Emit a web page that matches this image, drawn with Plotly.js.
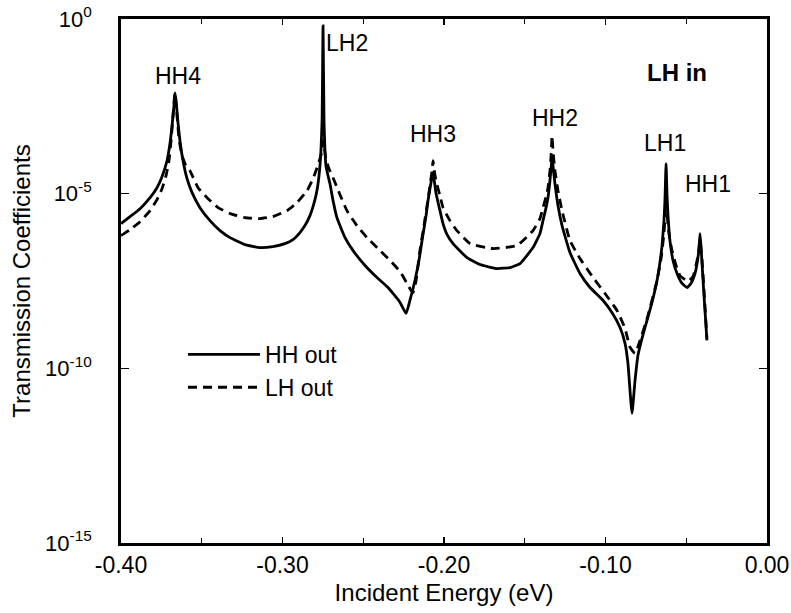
<!DOCTYPE html>
<html>
<head>
<meta charset="utf-8">
<script src="https://cdn.plot.ly/plotly-3.0.1.min.js"></script>
<style>html,body{margin:0;padding:0;background:#fff;}#chart{width:791px;height:613px;}</style>
</head>
<body>
<div id="chart"></div>
<script>
// Incident energy (eV) and transmission coefficients
const hhOutE = [-0.4000,-0.3944,-0.3882,-0.3820,-0.3777,-0.3746,-0.3715,-0.3697,-0.3684,-0.3672,-0.3666,-0.3659,-0.3647,-0.3635,-0.3616,-0.3591,-0.3560,-0.3511,-0.3449,-0.3387,-0.3325,-0.3232,-0.3139,-0.3059,-0.2985,-0.2935,-0.2892,-0.2861,-0.2830,-0.2811,-0.2793,-0.2780,-0.2768,-0.2762,-0.2755,-0.2749,-0.2743,-0.2737,-0.2731,-0.2718,-0.2706,-0.2687,-0.2663,-0.2613,-0.2563,-0.2489,-0.2415,-0.2353,-0.2316,-0.2272,-0.2235,-0.2211,-0.2180,-0.2155,-0.2136,-0.2111,-0.2099,-0.2087,-0.2074,-0.2068,-0.2062,-0.2050,-0.2025,-0.2006,-0.1981,-0.1944,-0.1858,-0.1777,-0.1672,-0.1591,-0.1529,-0.1449,-0.1406,-0.1387,-0.1368,-0.1356,-0.1344,-0.1337,-0.1331,-0.1325,-0.1313,-0.1294,-0.1269,-0.1220,-0.1158,-0.1096,-0.1015,-0.0960,-0.0910,-0.0879,-0.0861,-0.0836,-0.0817,-0.0799,-0.0774,-0.0743,-0.0712,-0.0681,-0.0663,-0.0650,-0.0638,-0.0632,-0.0625,-0.0619,-0.0613,-0.0601,-0.0582,-0.0557,-0.0526,-0.0495,-0.0471,-0.0446,-0.0433,-0.0421,-0.0415,-0.0409,-0.0396,-0.0384,-0.0372];
const hhOutT = [1.39e-6,2.20e-6,3.72e-6,7.69e-6,1.48e-5,3.06e-5,8.77e-5,2.69e-4,8.77e-4,3.27e-3,7.69e-3,4.54e-3,1.07e-3,3.27e-4,8.77e-5,2.69e-5,1.07e-5,3.98e-6,1.69e-6,8.77e-7,5.53e-7,3.49e-7,2.86e-7,3.06e-7,3.72e-7,4.85e-7,7.69e-7,1.22e-6,2.35e-6,4.26e-6,8.77e-6,1.93e-5,6.31e-5,1.69e-4,1.22e-3,6.31e-1,1.22e-3,1.69e-4,6.31e-5,3.27e-5,1.93e-5,6.31e-6,2.06e-6,5.53e-7,2.35e-7,8.77e-8,3.98e-8,2.20e-8,1.39e-8,7.69e-9,3.72e-9,8.77e-9,3.27e-8,1.22e-7,4.54e-7,2.35e-6,6.31e-6,1.39e-5,3.06e-5,3.98e-5,2.69e-5,1.07e-5,3.27e-6,1.39e-6,6.74e-7,3.72e-7,1.48e-7,9.35e-8,7.19e-8,7.69e-8,1.00e-7,2.86e-7,7.19e-7,1.69e-6,3.98e-6,7.69e-6,2.35e-5,5.18e-5,1.07e-4,6.31e-5,1.93e-5,4.54e-6,1.22e-6,2.06e-7,5.18e-8,2.06e-8,8.77e-9,3.98e-9,1.48e-9,5.18e-10,1.39e-10,5.18e-12,4.54e-11,2.35e-10,7.19e-10,2.35e-9,7.69e-9,3.27e-8,1.07e-7,3.27e-7,1.69e-6,6.31e-6,7.19e-5,8.77e-6,2.35e-6,4.54e-7,1.22e-7,5.18e-8,2.69e-8,2.06e-8,2.69e-8,5.18e-8,1.00e-7,2.69e-7,7.19e-7,3.27e-7,3.27e-8,4.54e-9,6.31e-10];

const lhOutE = [-0.4000,-0.3944,-0.3882,-0.3820,-0.3777,-0.3746,-0.3721,-0.3703,-0.3690,-0.3678,-0.3666,-0.3653,-0.3641,-0.3622,-0.3598,-0.3573,-0.3523,-0.3467,-0.3399,-0.3325,-0.3232,-0.3139,-0.3059,-0.2972,-0.2910,-0.2848,-0.2811,-0.2786,-0.2768,-0.2755,-0.2749,-0.2743,-0.2731,-0.2712,-0.2687,-0.2644,-0.2601,-0.2539,-0.2477,-0.2396,-0.2334,-0.2272,-0.2229,-0.2204,-0.2192,-0.2173,-0.2149,-0.2124,-0.2105,-0.2087,-0.2074,-0.2068,-0.2062,-0.2050,-0.2025,-0.2006,-0.1963,-0.1920,-0.1839,-0.1697,-0.1548,-0.1449,-0.1406,-0.1387,-0.1368,-0.1356,-0.1344,-0.1337,-0.1331,-0.1325,-0.1313,-0.1294,-0.1269,-0.1220,-0.1158,-0.1077,-0.1003,-0.0929,-0.0879,-0.0848,-0.0817,-0.0786,-0.0737,-0.0681,-0.0656,-0.0638,-0.0632,-0.0625,-0.0619,-0.0613,-0.0601,-0.0588,-0.0563,-0.0539,-0.0489,-0.0458,-0.0440,-0.0427,-0.0415,-0.0402,-0.0390,-0.0372];
const lhOutT = [6.31e-7,9.35e-7,1.58e-6,3.27e-6,6.74e-6,1.39e-5,3.27e-5,8.77e-5,3.27e-4,1.69e-3,7.69e-3,1.69e-3,3.72e-4,1.22e-4,6.31e-5,4.54e-5,1.48e-5,7.69e-6,3.98e-6,2.69e-6,2.06e-6,1.93e-6,2.20e-6,3.27e-6,5.53e-6,1.22e-5,2.69e-5,5.53e-5,1.00e-4,1.69e-4,3.27e-4,2.35e-4,1.00e-4,5.18e-5,2.86e-5,9.35e-6,3.27e-6,1.22e-6,5.53e-7,2.35e-7,1.22e-7,5.90e-8,2.69e-8,1.69e-8,1.48e-8,3.27e-8,2.35e-7,1.22e-6,4.54e-6,1.69e-5,4.54e-5,8.77e-5,5.18e-5,2.35e-5,8.77e-6,3.98e-6,1.69e-6,8.77e-7,3.72e-7,2.69e-7,3.27e-7,8.77e-7,1.93e-6,3.98e-6,8.20e-6,1.48e-5,4.54e-5,1.22e-4,4.54e-4,1.69e-4,4.54e-5,1.22e-5,3.27e-6,4.54e-7,1.39e-7,3.98e-8,1.39e-8,4.54e-9,1.39e-9,3.98e-10,2.69e-10,6.31e-10,3.27e-9,3.27e-8,1.39e-7,7.19e-7,1.93e-6,6.31e-6,3.27e-6,1.22e-6,4.54e-7,2.35e-7,8.77e-8,4.54e-8,3.06e-8,4.26e-8,8.77e-8,1.69e-7,4.54e-7,1.22e-7,1.69e-8,7.19e-10];

const seriesNames = ["HH out", "LH out"];
const yTickVals = [1, 1e-5, 1e-10, 1e-15];
const yTickText = ["10<sup>0</sup>", "10<sup>-5</sup>", "10<sup>-10</sup>", "10<sup>-15</sup>"];
const xTickVals = [-0.4, -0.3, -0.2, -0.1, 0.0];
const xTickText = ["-0.40", "-0.30", "-0.20", "-0.10", "0.00"];
const peakLabels = ["HH4", "LH2", "HH3", "HH2", "LH1", "HH1"];
const peakLabelE = [-0.3647, -0.2600, -0.2068, -0.1313, -0.0632, -0.0365];
const peakLabelLogT = [-1.63, -0.69, -3.29, -2.83, -3.54, -4.71];
const panelLabel = "<b>LH in</b>";

const FONT = "Liberation Sans, Arial, Helvetica, sans-serif";

const traces = [
  {x: hhOutE, y: hhOutT, name: seriesNames[0], type: "scatter", mode: "lines",
   line: {color: "#000", width: 2.8, shape: "spline", smoothing: 0.4}},
  {x: lhOutE, y: lhOutT, name: seriesNames[1], type: "scatter", mode: "lines",
   line: {color: "#000", width: 2.8, dash: "9px,6px", shape: "spline", smoothing: 0.4}}
];

const annotations = peakLabels.map((t, i) => ({
  x: peakLabelE[i], y: peakLabelLogT[i], xref: "x", yref: "y", text: t,
  showarrow: false, font: {family: FONT, size: 23, color: "#000"}
}));
annotations.push({x: -0.0557, y: -1.54, xref: "x", yref: "y", text: panelLabel,
  showarrow: false, font: {family: FONT, size: 24, color: "#000"}});

const layout = {
  width: 791, height: 613,
  margin: {l: 121, r: 24, t: 19, b: 70},
  paper_bgcolor: "#fff", plot_bgcolor: "#fff",
  font: {family: FONT, color: "#000", size: 22},
  showlegend: true,
  legend: {x: 0.096, y: 0.401, xanchor: "left", yanchor: "top", bgcolor: "rgba(0,0,0,0)",
           font: {family: FONT, size: 23}, itemwidth: 72, tracegroupgap: 0},
  xaxis: {
    range: [-0.4, 0.0], tickvals: xTickVals, ticktext: xTickText,
    ticks: "inside", ticklen: 6, tickwidth: 1.2, tickcolor: "#000",
    minor: {dtick: 0.05, tick0: 0, ticks: "inside", ticklen: 5, tickwidth: 1.2, tickcolor: "#000"},
    showline: true, linewidth: 2.8, linecolor: "#000", mirror: "ticks",
    showgrid: false, zeroline: false,
    tickfont: {family: FONT, size: 23},
    title: {text: "Incident Energy (eV)", font: {family: FONT, size: 24}, standoff: 7}
  },
  yaxis: {
    type: "log", range: [-15, 0], tickvals: yTickVals, ticktext: yTickText,
    ticks: "inside", ticklen: 8, tickwidth: 1.2, tickcolor: "#000",
    ticklabelstandoff: 22,
    showline: true, linewidth: 2.8, linecolor: "#000", mirror: "ticks",
    showgrid: false, zeroline: false,
    tickfont: {family: FONT, size: 22},
    title: {text: "Transmission Coefficients", font: {family: FONT, size: 24}, standoff: 8}
  },
  annotations: annotations
};

Plotly.newPlot("chart", traces, layout, {displayModeBar: false, staticPlot: true});
</script>
</body>
</html>
